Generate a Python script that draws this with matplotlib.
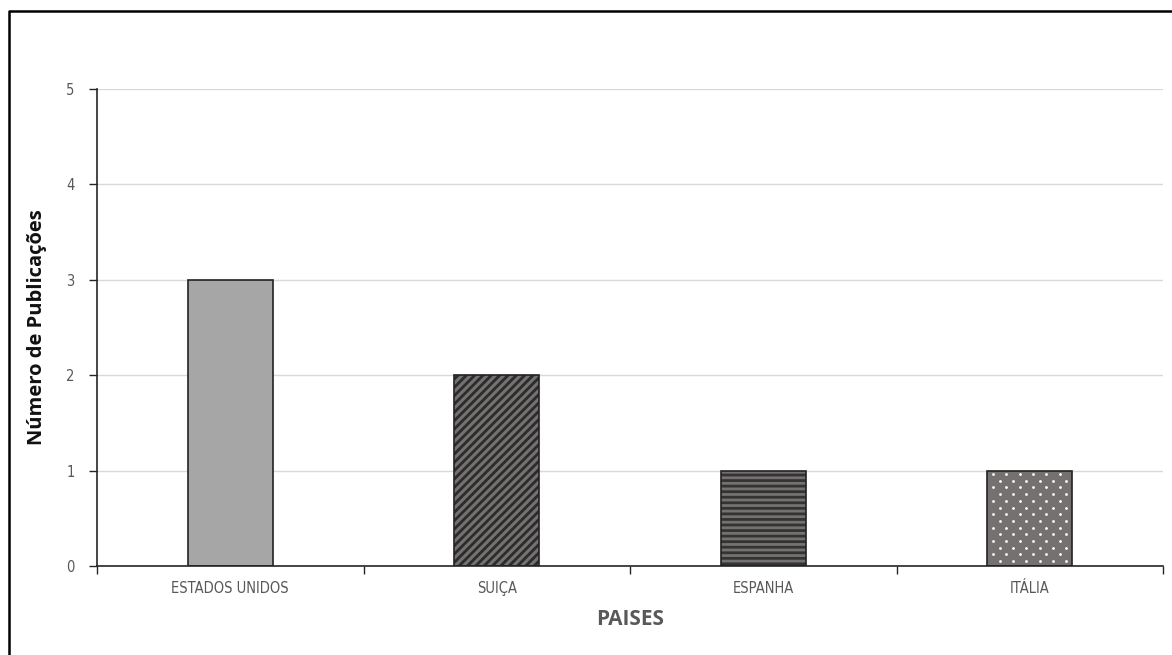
import matplotlib
matplotlib.use("Agg")
import matplotlib.pyplot as plt
import numpy as np
from matplotlib.lines import Line2D

paises = ["ESTADOS UNIDOS", "SUIÇA", "ESPANHA", "ITÁLIA"]
publicacoes = [3, 2, 1, 1]
y_ticks = [0, 1, 2, 3, 4, 5]

fills = ["#a6a6a6", "#767171", "#767171", "#767171"]
hatches = [None, "////", "---", None]
hatch_colors = [None, "#2b2b2b", "#333333", None]
dotted = [False, False, False, True]

label_font = ["Open Sans", "DejaVu Sans"]

plt.rcParams["font.family"] = ["Lato", "DejaVu Sans"]
plt.rcParams["hatch.linewidth"] = 2.0

W, H = 1172, 655
fig = plt.figure(figsize=(W / 100, H / 100), dpi=100)
ax = fig.add_axes([97 / W, 1 - 566 / H, (1163 - 97) / W, (566 - 89) / H])

x = list(range(len(paises)))
width = 0.32
ax.set_xlim(-0.5, len(paises) - 0.5)
ax.set_ylim(0, 5)


def dot_pattern(ax, patch, pitch_x=13.3, pitch_y=6.7):
    """Staggered white dot fill clipped to a bar, spacing in pixels."""
    fig.canvas.draw()
    bb = patch.get_window_extent()
    pts = []
    row = 0
    y = bb.y1 - 3.5
    while y > bb.y0:
        start = bb.x0 + 6.0 + (pitch_x / 2 if row % 2 else 0.0)
        xs = np.arange(start, bb.x1, pitch_x)
        pts.extend((xx, y) for xx in xs)
        y -= pitch_y
        row += 1
    pts = np.array(pts)
    data = ax.transData.inverted().transform(pts)
    sc = ax.scatter(data[:, 0], data[:, 1], s=4.0, color="#ffffff",
                    linewidths=0, zorder=3)
    sc.set_clip_path(patch)


for i, (xi, v) in enumerate(zip(x, publicacoes)):
    base = ax.bar(xi, v, width=width, color=fills[i], edgecolor="none", zorder=2)[0]
    if hatches[i]:
        ax.bar(xi, v, width=width, color="none", edgecolor=hatch_colors[i],
               hatch=hatches[i], linewidth=0, zorder=3)
    if dotted[i]:
        dot_pattern(ax, base)
    ax.bar(xi, v, width=width, color="none", edgecolor="#222222",
           linewidth=1.2, zorder=4)

tick_kw = dict(color="#595959", fontsize=10.5, family="DejaVu Sans",
               fontstretch="condensed")
ax.set_yticks(y_ticks)
ax.set_yticklabels([str(t) for t in y_ticks], **tick_kw)
ax.yaxis.grid(True, color="#d9d9d9", linewidth=1.0, zorder=0)
ax.set_axisbelow(True)

ax.set_xticks(x)
ax.set_xticklabels(paises, **tick_kw)
ax.tick_params(axis="x", length=0, pad=11)
ax.set_xticks([i - 0.5 for i in range(len(paises) + 1)], minor=True)
ax.tick_params(axis="x", which="minor", length=6, width=1, color="#262626",
               direction="out")
ax.tick_params(axis="y", length=6, width=1, color="#262626", pad=10)

for side in ("top", "right"):
    ax.spines[side].set_visible(False)
for side in ("left", "bottom"):
    ax.spines[side].set_color("#262626")
    ax.spines[side].set_linewidth(1.2)

ax.set_ylabel("Número de Publicações", fontsize=14.5, fontweight="bold",
              color="#111111", family=label_font, labelpad=14)
ax.set_xlabel("PAISES", fontsize=15, fontweight="bold", color="#595959",
              family=label_font, labelpad=9)

# outer frame (top and left edges)
fig.add_artist(Line2D([9 / W, 9 / W, 1.0], [0.0, 1 - 11 / H, 1 - 11 / H],
                      transform=fig.transFigure, color="#000000", linewidth=1.8))

fig.savefig("out.png", dpi=100)
